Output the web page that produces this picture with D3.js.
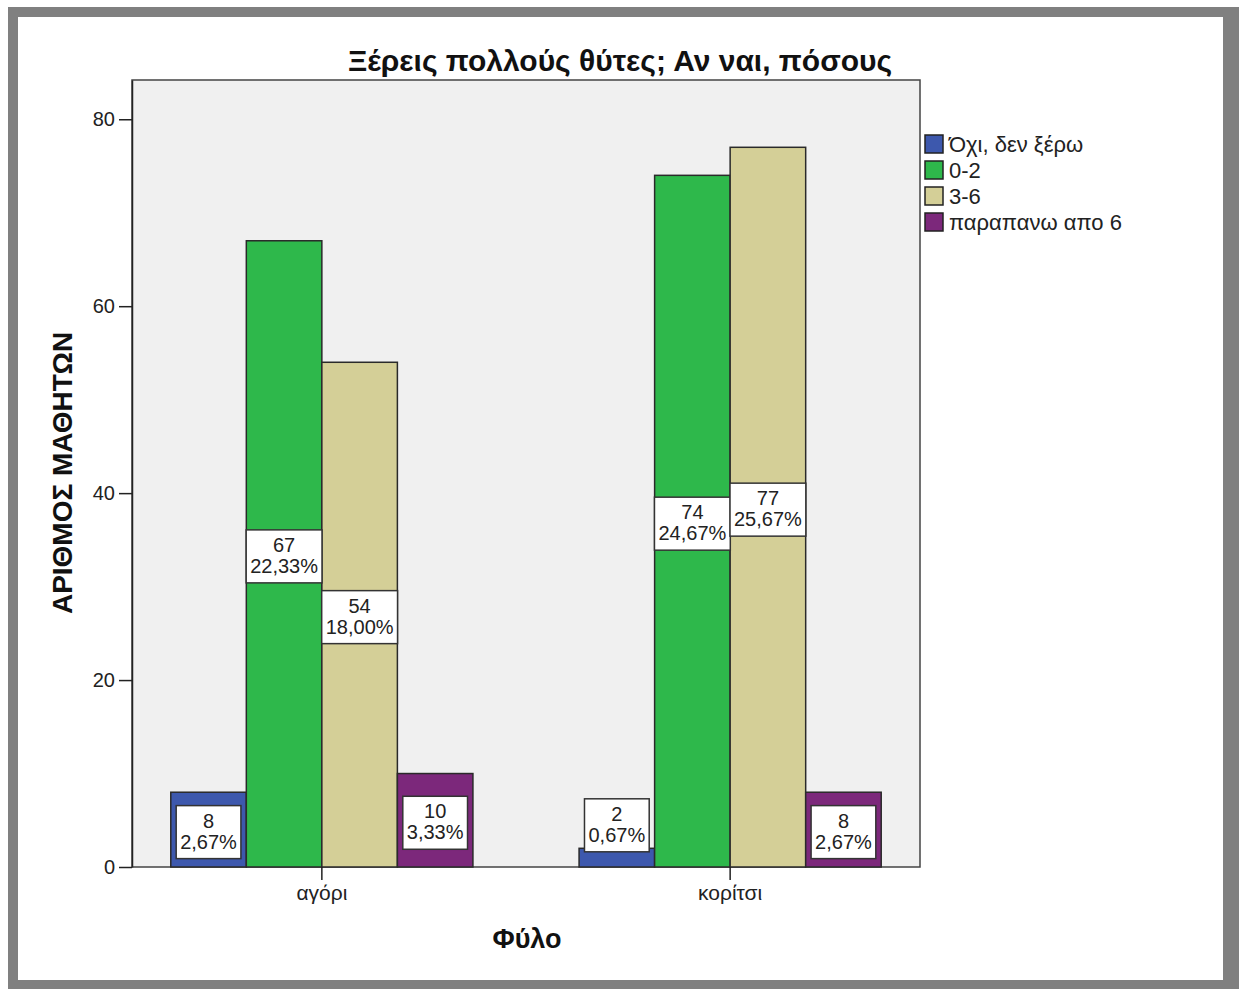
<!DOCTYPE html>
<html>
<head>
<meta charset="utf-8">
<script src="https://cdn.jsdelivr.net/npm/d3@7"></script>
<style>
  body { margin: 0; background: #fff; }
  svg { display: block; font-family: "Liberation Sans", Arial, sans-serif; }
</style>
</head>
<body>
<div id="chart"></div>
<script>
var w = 1244;
var h = 989;

// data
var genders = ["αγόρι", "κορίτσι"];
var answers = ["Όχι, δεν ξέρω", "0-2", "3-6", "παραπανω απο 6"];
var counts = [
  [8, 67, 54, 10],   // αγόρι
  [2, 74, 77, 8]     // κορίτσι
];
var percents = [
  ["2,67%", "22,33%", "18,00%", "3,33%"],
  ["0,67%", "24,67%", "25,67%", "2,67%"]
];
var colors = ["#3d58ad", "#2eb84b", "#d4cf97", "#7c287b"];
var yTicks = [0, 20, 40, 60, 80];

// plot area
var plotL = 132, plotR = 920, plotT = 80, plotB = 867;

var svg = d3.select("#chart").append("svg")
  .attr("width", w)
  .attr("height", h);

// grey outer frame
svg.append("rect")
  .attr("x", 8).attr("y", 7)
  .attr("width", 1231).attr("height", 990)
  .attr("fill", "#808080");
svg.append("rect")
  .attr("x", 18).attr("y", 17)
  .attr("width", 1205).attr("height", 963)
  .attr("fill", "#fff");

// scales
var xScale = d3.scaleBand()
  .domain(genders)
  .range([plotL, plotR])
  .paddingInner(0.26)
  .paddingOuter(0.095);

var xSub = d3.scaleBand()
  .domain(answers)
  .range([0, xScale.bandwidth()]);

var yScale = d3.scaleLinear()
  .domain([0, 84.2])
  .range([plotB, plotT]);

// plot background
svg.append("rect")
  .attr("x", plotL).attr("y", plotT)
  .attr("width", plotR - plotL).attr("height", plotB - plotT)
  .attr("fill", "#f0f0f0")
  .attr("stroke", "#444")
  .attr("stroke-width", 1.5);

// bars
var rows = function(d, i) {
  return answers.map(function(a, j) { return {ans: a, j: j, v: counts[i][j], p: percents[i][j]}; });
};

var groups = svg.selectAll("g.grp")
  .data(genders)
  .enter()
  .append("g")
  .attr("class", "grp")
  .attr("transform", function(d) { return "translate(" + xScale(d) + ",0)"; });

groups.selectAll("rect")
  .data(rows)
  .enter()
  .append("rect")
  .attr("x", function(d) { return xSub(d.ans); })
  .attr("y", function(d) { return yScale(d.v); })
  .attr("width", xSub.bandwidth())
  .attr("height", function(d) { return plotB - yScale(d.v); })
  .attr("fill", function(d) { return colors[d.j]; })
  .attr("stroke", "#2a2a2a")
  .attr("stroke-width", 1.5);

// value labels - centred in bar, or sitting on top when the bar is too short
var boxH = 53;
var labels = groups.selectAll("g.lab")
  .data(rows)
  .enter()
  .append("g")
  .attr("class", "lab")
  .attr("transform", function(d) {
    var cx = xSub(d.ans) + xSub.bandwidth() / 2;
    var barH = plotB - yScale(d.v);
    var cy = barH > boxH + 4 ? yScale(d.v / 2) + 2 : yScale(d.v) - boxH / 2 + 3;
    return "translate(" + cx + "," + cy + ")";
  });

labels.append("rect").attr("class", "box");
labels.append("text")
  .attr("text-anchor", "middle")
  .attr("y", -4)
  .attr("font-size", "20px")
  .attr("fill", "#222")
  .text(function(d) { return d.v; });
labels.append("text")
  .attr("text-anchor", "middle")
  .attr("y", 17)
  .attr("font-size", "20px")
  .attr("fill", "#222")
  .text(function(d) { return d.p; });

labels.each(function() {
  var g = d3.select(this);
  var tw = 0;
  g.selectAll("text").each(function() { tw = Math.max(tw, this.getComputedTextLength()); });
  g.select("rect.box")
    .attr("x", -tw / 2 - 4)
    .attr("y", -26)
    .attr("width", tw + 8)
    .attr("height", boxH)
    .attr("fill", "#fff")
    .attr("stroke", "#333")
    .attr("stroke-width", 1.5);
});

// axes
var yAxis = d3.axisLeft(yScale)
  .tickValues(yTicks)
  .tickSize(13)
  .tickSizeOuter(0)
  .tickPadding(4);

var yG = svg.append("g")
  .attr("transform", "translate(" + plotL + ",0)")
  .call(yAxis);
yG.select(".domain").attr("stroke", "#222").attr("stroke-width", 1.5);
yG.selectAll(".tick line").attr("stroke", "#222").attr("stroke-width", 1.5);
yG.selectAll(".tick text")
  .attr("font-size", "20px")
  .attr("fill", "#222")
  .attr("font-family", "Liberation Sans, Arial, sans-serif");

var xAxis = d3.axisBottom(xScale)
  .tickSize(13)
  .tickPadding(5);

var xG = svg.append("g")
  .attr("transform", "translate(0," + plotB + ")")
  .call(xAxis);
xG.select(".domain").remove();
xG.selectAll(".tick line").attr("stroke", "#222").attr("stroke-width", 1.5);
xG.selectAll(".tick text")
  .attr("font-size", "21px")
  .attr("fill", "#222")
  .attr("font-family", "Liberation Sans, Arial, sans-serif");

// titles
svg.append("text")
  .text("Ξέρεις πολλούς θύτες; Αν ναι, πόσους")
  .attr("x", 620)
  .attr("y", 71)
  .attr("text-anchor", "middle")
  .attr("font-size", "30px")
  .attr("font-weight", "bold")
  .attr("fill", "#111");

svg.append("text")
  .text("ΑΡΙΘΜΟΣ ΜΑΘΗΤΩΝ")
  .attr("transform", "translate(72,473) rotate(-90)")
  .attr("text-anchor", "middle")
  .attr("font-size", "28px")
  .attr("font-weight", "bold")
  .attr("fill", "#111");

svg.append("text")
  .text("Φύλο")
  .attr("x", 527)
  .attr("y", 948)
  .attr("text-anchor", "middle")
  .attr("font-size", "27px")
  .attr("font-weight", "bold")
  .attr("fill", "#111");

// legend
var legend = svg.selectAll("g.leg")
  .data(answers)
  .enter()
  .append("g")
  .attr("class", "leg")
  .attr("transform", function(d, i) { return "translate(925," + (135 + i * 26) + ")"; });

legend.append("rect")
  .attr("width", 18)
  .attr("height", 18)
  .attr("fill", function(d, i) { return colors[i]; })
  .attr("stroke", "#222")
  .attr("stroke-width", 1.5);

legend.append("text")
  .text(function(d) { return d; })
  .attr("x", 24)
  .attr("y", 17)
  .attr("font-size", "22px")
  .attr("fill", "#222");
</script>
</body>
</html>
